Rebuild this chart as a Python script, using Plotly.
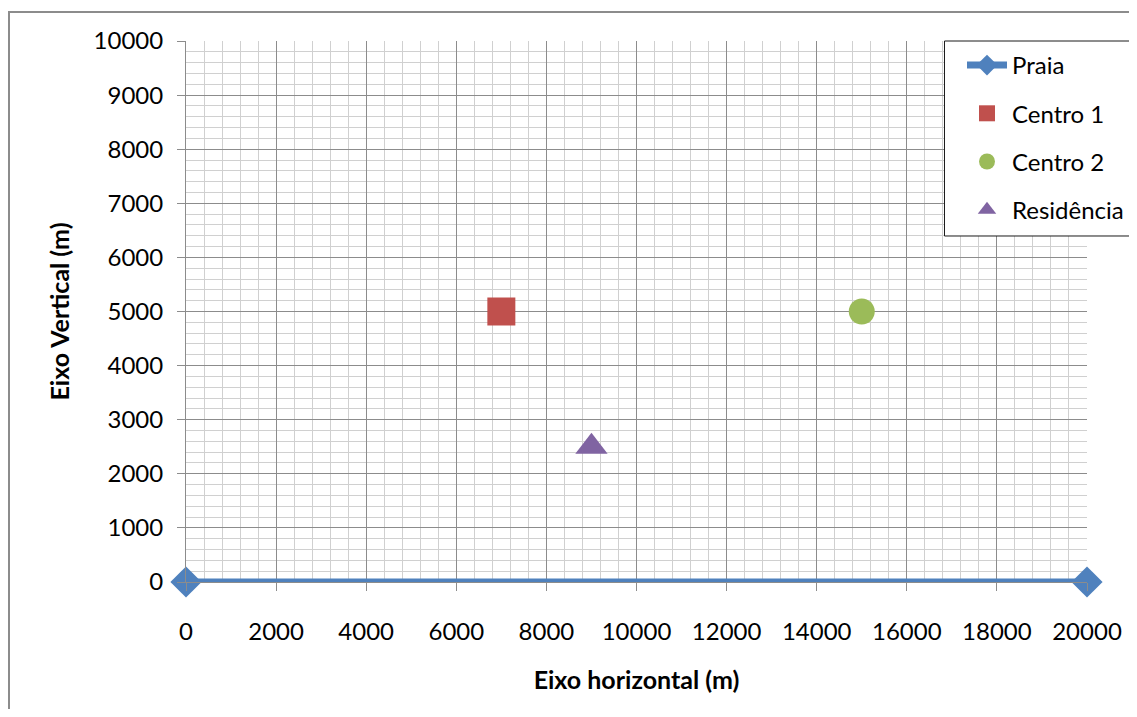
import plotly.graph_objects as go

# Data
praia_x = [0, 20000]
praia_y = [0, 0]
centro1_x = [7000]
centro1_y = [5000]
centro2_x = [15000]
centro2_y = [5000]
residencia_x = [9000]
residencia_y = [2500]

x_ticks = [0, 2000, 4000, 6000, 8000, 10000, 12000, 14000, 16000, 18000, 20000]
y_ticks = [0, 1000, 2000, 3000, 4000, 5000, 6000, 7000, 8000, 9000, 10000]

FONT = "Lato, 'Open Sans', sans-serif"

fig = go.Figure()
fig.add_trace(go.Scatter(x=praia_x, y=praia_y, name="Praia", mode="lines+markers",
                         line=dict(color="#4F81BD", width=7),
                         marker=dict(symbol="diamond", size=24, color="#4F81BD"),
                         cliponaxis=False, legendgroup="a"))
fig.add_trace(go.Scatter(x=centro1_x, y=centro1_y, name="Centro 1", mode="markers",
                         marker=dict(symbol="square", size=28, color="#C0504D"),
                         cliponaxis=False, legendgroup="b"))
fig.add_trace(go.Scatter(x=centro2_x, y=centro2_y, name="Centro 2", mode="markers",
                         marker=dict(symbol="circle", size=26, color="#9BBB59"),
                         cliponaxis=False, legendgroup="c"))
fig.add_trace(go.Scatter(x=residencia_x, y=residencia_y, name="Residência", mode="markers",
                         marker=dict(symbol="triangle-up", size=28, color="#8064A2"),
                         cliponaxis=False, legendgroup="d"))

# page has an 8px body margin; work in figure coordinates and keep the figure inside the window
OFF = 8
L, R, T, B = 186 - OFF, 1087 - OFF, 41 - OFF, 582 - OFF
W, H = 1137 - 2 * OFF, 717 - 2 * OFF

def px_x(p):
    return (p - OFF - L) / (R - L)

def px_y(p):
    return (B - (p - OFF)) / (B - T)

def path(points):
    return "M " + " L ".join(f"{px_x(a):.5f},{px_y(b):.5f}" for a, b in points)

fig.update_layout(
    width=W, height=H,
    margin=dict(l=L, r=W - R, t=T, b=H - B, autoexpand=False),
    paper_bgcolor="white", plot_bgcolor="white",
    font=dict(family=FONT, size=24, color="black"),
    showlegend=True,
    legend=dict(x=px_x(962), y=px_y(43), xanchor="left", yanchor="top",
                bgcolor="rgba(0,0,0,0)", borderwidth=0,
                font=dict(family=FONT, size=24, color="black"),
                tracegroupgap=14, itemwidth=40),
    xaxis=dict(range=[0, 20000], tickvals=x_ticks, ticktext=[str(v) for v in x_ticks],
               showgrid=True, gridcolor="#8c8c8c", gridwidth=1,
               minor=dict(dtick=400, tick0=0, showgrid=True, gridcolor="#d0d0d0", gridwidth=1),
               ticks="outside", ticklen=8, tickcolor="#8c8c8c",
               showline=True, linecolor="#8c8c8c", zeroline=False,
               ticklabelstandoff=20,
               tickfont=dict(size=24),
               title=dict(text="<b>Eixo horizontal (m)</b>", font=dict(size=25), standoff=27)),
    yaxis=dict(range=[0, 10000], tickvals=y_ticks, ticktext=[str(v) for v in y_ticks],
               showgrid=True, gridcolor="#8c8c8c", gridwidth=1,
               minor=dict(dtick=200, tick0=0, showgrid=True, gridcolor="#d0d0d0", gridwidth=1),
               ticks="outside", ticklen=8, tickcolor="#8c8c8c",
               showline=True, linecolor="#8c8c8c", zeroline=False,
               ticklabelstandoff=9,
               tickfont=dict(size=24),
               title=dict(text="<b>Eixo Vertical (m)</b>", font=dict(size=25), standoff=16)),
    shapes=[
        # outer chart border (left and top sides visible)
        dict(type="path", xref="paper", yref="paper",
             path=path([(9, 760), (9, 12), (1250, 12)]),
             line=dict(color="#8c8c8c", width=2), layer="below"),
        # legend box background
        dict(type="rect", xref="paper", yref="paper",
             x0=px_x(944), x1=px_x(1250), y0=px_y(236), y1=px_y(41),
             line=dict(width=0), fillcolor="white", layer="above"),
        # legend box border (runs off the right edge)
        dict(type="path", xref="paper", yref="paper",
             path=path([(1250, 41), (944.5, 41), (944.5, 236), (1250, 236)]),
             line=dict(color="#1a1a1a", width=1), layer="above"),
    ],
)

fig.write_html("out.html")
